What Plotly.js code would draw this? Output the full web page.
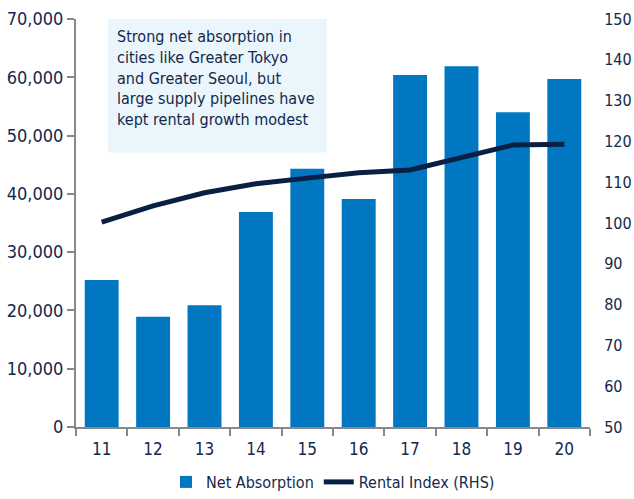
<!DOCTYPE html>
<html><head><meta charset="utf-8">
<script src="https://cdn.plot.ly/plotly-3.0.1.min.js"></script>
<style>html,body{margin:0;padding:0;background:#fff}#chart{width:634px;height:499px}</style>
</head><body><div id="chart"></div>
<script>
const categories = ["11","12","13","14","15","16","17","18","19","20"];
const netAbsorption = [25200, 18900, 20900, 36900, 44300, 39100, 60400, 61900, 54000, 59700];
const rentalIndex = [100.2, 104.2, 107.4, 109.6, 111.0, 112.3, 113.0, 116.0, 119.1, 119.3];
const leftTicks = [0, 10000, 20000, 30000, 40000, 50000, 60000, 70000];
const rightTicks = [50, 60, 70, 80, 90, 100, 110, 120, 130, 140, 150];
const noteText = "Strong net absorption in<br>cities like Greater Tokyo<br>and Greater Seoul, but<br>large supply pipelines have<br>kept rental growth modest";

const FONT = '"DejaVu Sans Condensed", "Roboto", sans-serif';
const NAVY = '#13284c';

const data = [
  {type:'bar', x:categories, y:netAbsorption, name:'Net Absorption',
   marker:{color:'#0077c0'}, yaxis:'y'},
  {type:'scatter', mode:'lines', x:categories, y:rentalIndex, name:'Rental Index (RHS)',
   line:{color:'#0a1f44', width:5}, yaxis:'y2'}
];

const layout = {
  width:634, height:499,
  margin:{l:76, r:44, t:19, b:72, autoexpand:false},
  paper_bgcolor:'#fff', plot_bgcolor:'#fff',
  font:{family:FONT, color:NAVY, size:17},
  bargap:0.34,
  showlegend:true,
  legend:{orientation:'h', x:0.5, xanchor:'center', yref:'container', y:-0.012, yanchor:'bottom',
          font:{size:16, color:NAVY}, traceorder:'normal', itemwidth:30},
  xaxis:{type:'category', showline:true, linecolor:'#888', linewidth:2,
         ticks:'outside', tickson:'boundaries', ticklen:7, tickcolor:'#888', tickwidth:2,
         ticklabelstandoff:6,
         showgrid:false, zeroline:false, tickfont:{size:17, color:NAVY}},
  yaxis:{range:[0,70000], tickvals:leftTicks, ticktext:leftTicks.map(v=>v.toLocaleString('en-US')),
         showline:true, linecolor:'#888', linewidth:2, ticks:'outside', ticklen:7,
         tickcolor:'#888', tickwidth:2, showgrid:false, zeroline:false,
         tickfont:{size:18, color:NAVY}},
  yaxis2:{overlaying:'y', side:'right', range:[50,150], tickvals:rightTicks,
          showline:false, showgrid:false, zeroline:false, ticks:'outside', ticklen:10,
          tickcolor:'rgba(0,0,0,0)', tickfont:{size:16, color:NAVY}},
  shapes:[{type:'rect', xref:'paper', yref:'paper', x0:0.062, x1:0.488, y0:0.673, y1:1.0,
           fillcolor:'#eaf6fc', line:{width:0}, layer:'below'}],
  annotations:[{xref:'paper', yref:'paper', x:0.075, y:0.985, xanchor:'left', yanchor:'top',
                text:noteText, showarrow:false, align:'left',
                font:{size:16, color:NAVY, family:FONT}}]
};

Plotly.newPlot('chart', data, layout, {displayModeBar:false, staticPlot:true});
</script></body></html>
